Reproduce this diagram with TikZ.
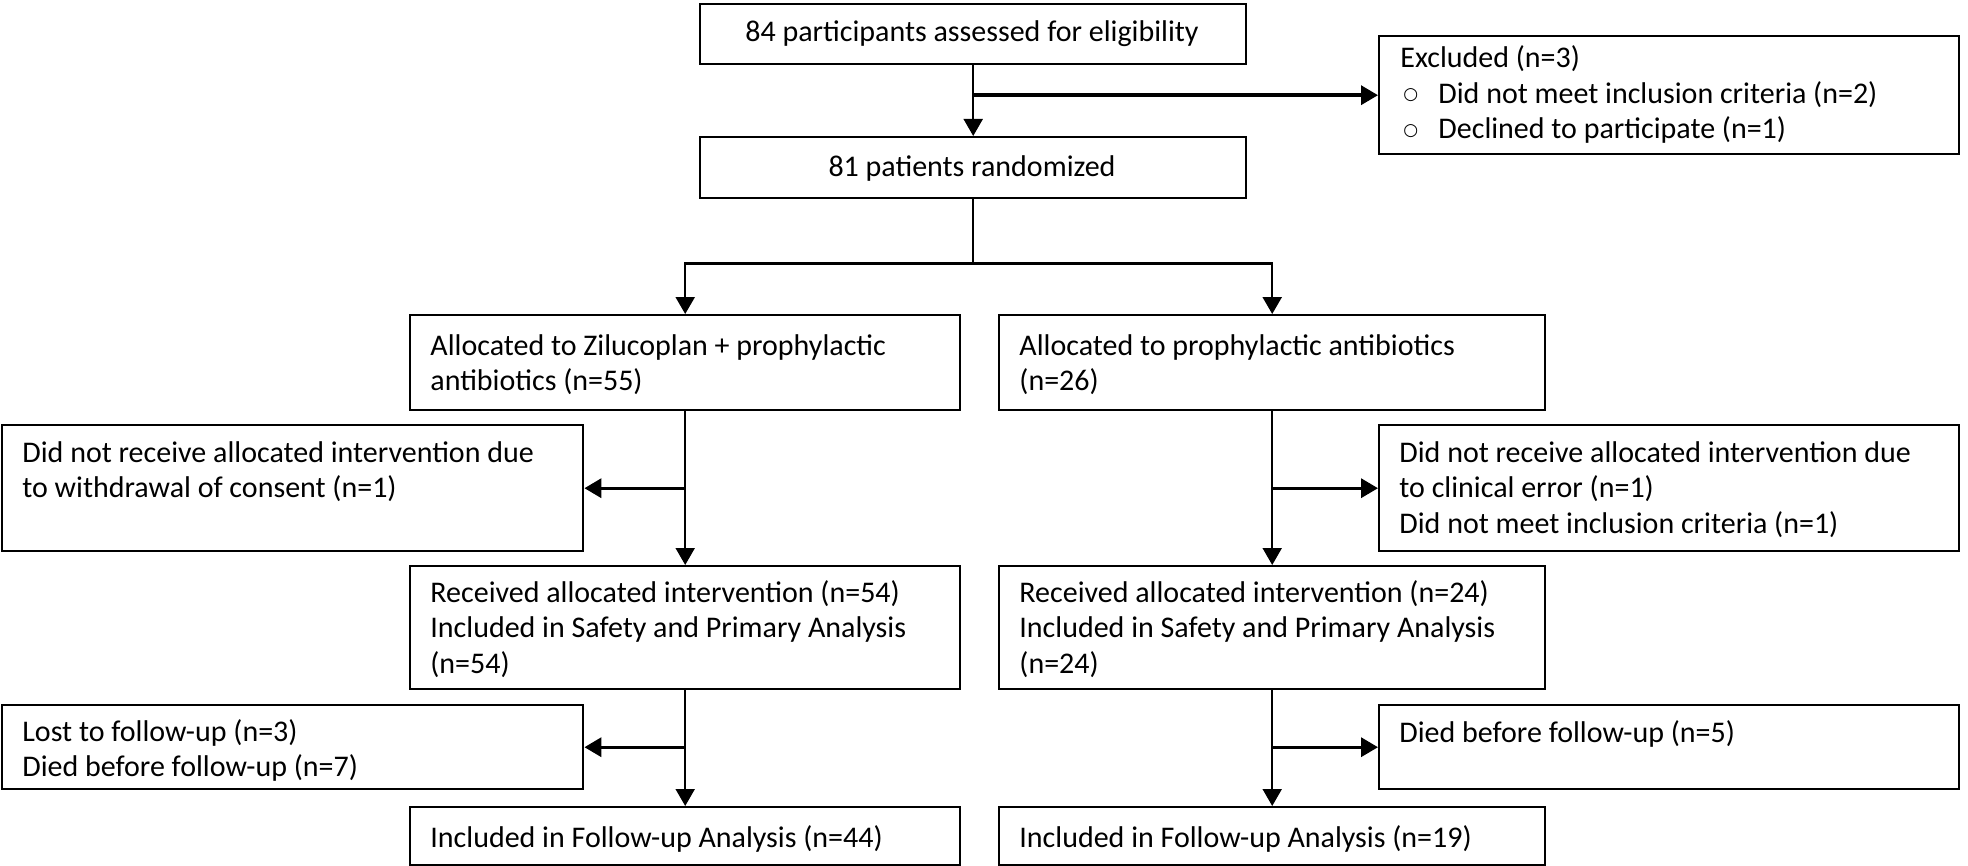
\documentclass[tikz,border=0pt]{standalone}
\usepackage{fontspec}
\setmainfont{Carlito}
\newfontfamily\dejavu{DejaVu Sans}
\usetikzlibrary{arrows.meta}
\newcommand\diafont{\fontsize{15pt}{17.75pt}\selectfont}
\newcommand\bul{\makebox[19pt][l]{\hspace{1.5pt}\raisebox{1.8pt}{\dejavu\fontsize{8.5pt}{8.5pt}\selectfont ○}}}
\newcommand\pb[1]{\parbox[t]{285pt}{\raggedright #1}}
\begin{document}
\begin{tikzpicture}[x=0.5pt,y=-0.5pt,
  box/.style={draw, line width=1.2pt, inner sep=0, anchor=north west},
  txt/.style={anchor=base west, inner sep=0, font=\diafont},
  ctxt/.style={anchor=base, inner sep=0, font=\diafont},
  ln/.style={line width=1pt},
  arr/.style={line width=1pt, line join=miter, -{Triangle[length=8.5pt,width=9.5pt]}},
  sarr/.style={line width=1.7pt, -{Triangle[length=8.5pt,width=9.5pt]}}]
\useasboundingbox (0,0) rectangle (1968,866);
% boxes
\node[box, minimum width=273pt, minimum height=30pt] (A) at (699,3) {};
\node[box, minimum width=290pt, minimum height=59pt] (Excl) at (1378,35) {};
\node[box, minimum width=273pt, minimum height=30.5pt] (B) at (699,136) {};
\node[box, minimum width=275pt, minimum height=47.5pt] (L1) at (409,314) {};
\node[box, minimum width=273pt, minimum height=47.5pt] (R1) at (998,314) {};
\node[box, minimum width=290.5pt, minimum height=63pt] (LX) at (1,424) {};
\node[box, minimum width=290pt, minimum height=63pt] (RX) at (1378,424) {};
\node[box, minimum width=275pt, minimum height=61.5pt] (L2) at (409,565) {};
\node[box, minimum width=273pt, minimum height=61.5pt] (R2) at (998,565) {};
\node[box, minimum width=290.5pt, minimum height=42pt] (LL) at (1,704) {};
\node[box, minimum width=290pt, minimum height=42pt] (RD) at (1378,704) {};
\node[box, minimum width=275pt, minimum height=29pt] (L3) at (409,806) {};
\node[box, minimum width=273pt, minimum height=29pt] (R3) at (998,806) {};
% texts
\node[ctxt] (At) at (972,42) {84 participants assessed for eligibility};
\node[txt] (Et) at (1400,68) {\pb{Excluded (n=3)\\\bul Did not meet inclusion criteria (n=2)\\\bul Declined to participate (n=1)}};
\node[ctxt] (Bt) at (972,177) {81 patients randomized};
\node[txt] (L1t) at (430,355) {\pb{Allocated to Zilucoplan + prophylactic\\antibiotics (n=55)}};
\node[txt] (R1t) at (1019,355) {\pb{Allocated to prophylactic antibiotics\\(n=26)}};
\node[txt] (LXt) at (22,462) {\pb{Did not receive allocated intervention due\\to withdrawal of consent (n=1)}};
\node[txt] (RXt) at (1399,462) {\pb{Did not receive allocated intervention due\\to clinical error (n=1)\\Did not meet inclusion criteria (n=1)}};
\node[txt] (L2t) at (430,602) {\pb{Received allocated intervention (n=54)\\Included in Safety and Primary Analysis\\(n=54)}};
\node[txt] (R2t) at (1019,602) {\pb{Received allocated intervention (n=24)\\Included in Safety and Primary Analysis\\(n=24)}};
\node[txt] (LLt) at (22,741) {\pb{Lost to follow-up (n=3)\\Died before follow-up (n=7)}};
\node[txt] (RDt) at (1399,742) {\pb{Died before follow-up (n=5)}};
\node[txt] (L3t) at (430,847) {Included in Follow-up Analysis (n=44)};
\node[txt] (R3t) at (1019,847) {Included in Follow-up Analysis (n=19)};
% connectors
\draw[arr] (A.south) -- (B.north);
\draw[sarr] (A.south |- Excl.west) -- (Excl.west);
\draw[ln] (B.south) -- ++(0,64) coordinate (sp);
\draw[arr, line width=1.2pt] (sp) -| (L1.north);
\draw[arr, line width=1.2pt] (sp) -| (R1.north);
\draw[arr] (L1.south) -- (L2.north);
\draw[sarr] (L1.south |- LX.east) -- (LX.east);
\draw[arr] (R1.south) -- (R2.north);
\draw[sarr] (R1.south |- RX.west) -- (RX.west);
\draw[arr] (L2.south) -- (L3.north);
\draw[sarr] (L2.south |- LL.east) -- (LL.east);
\draw[arr] (R2.south) -- (R3.north);
\draw[sarr] (R2.south |- RD.west) -- (RD.west);
\end{tikzpicture}
\end{document}
